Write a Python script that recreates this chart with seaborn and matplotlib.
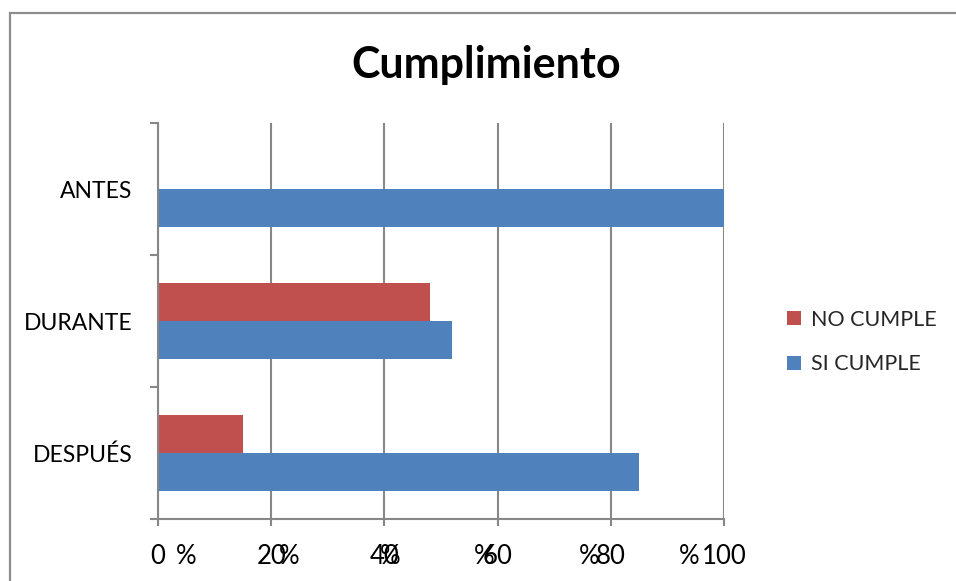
import matplotlib
matplotlib.use("Agg")
import matplotlib.pyplot as plt
from matplotlib.patches import Patch, Rectangle
import seaborn as sns
import pandas as pd

# Compliance percentages per stage
categories = ["ANTES", "DURANTE", "DESPUÉS"]
series_names = ["NO CUMPLE", "SI CUMPLE"]
no_cumple = [0, 48, 15]
si_cumple = [100, 52, 85]
x_ticks = [0, 20, 40, 60, 80, 100]
x_tick_labels = ["0", "20", "40", "60", "80", "100"]

colors = ["#C0504D", "#4F81BD"]
grid_gray = "#878787"

df = pd.DataFrame({
    "etapa": categories * 2,
    "serie": [series_names[0]] * 3 + [series_names[1]] * 3,
    "porcentaje": no_cumple + si_cumple,
})

sns.set_theme(style="white")
plt.rcParams["font.family"] = ["Lato", "DejaVu Sans"]

W, H = 956, 581
fig = plt.figure(figsize=(W / 100, H / 100), dpi=100)
ax = fig.add_axes([158 / W, 62 / H, 566 / W, 396 / H])

sns.barplot(data=df, y="etapa", x="porcentaje", hue="serie", order=categories,
            hue_order=series_names, palette=colors, orient="h", width=0.57,
            linewidth=0, saturation=1, legend=False, ax=ax)

ax.set_xlim(0, 100)
ax.set_ylim(2.5, -0.5)
ax.set_xlabel("")
ax.set_ylabel("")

# vertical gridlines behind the bars
ax.set_axisbelow(True)
ax.set_xticks(x_ticks)
ax.set_xticklabels(x_tick_labels, fontsize=18.5)
ax.xaxis.grid(True, color=grid_gray, linewidth=1.5)
ax.yaxis.grid(False)

for side in ["top", "right"]:
    ax.spines[side].set_visible(False)
for side in ["left", "bottom"]:
    ax.spines[side].set_color(grid_gray)
    ax.spines[side].set_linewidth(1.5)

x_pad = 13
x_len = 5
ax.tick_params(axis="x", bottom=True, direction="out", length=x_len, width=1.5,
               color=grid_gray, pad=x_pad, labelcolor="black")

# category labels centred, tick marks at category boundaries
ax.set_yticks([0, 1, 2])
ax.set_yticklabels(categories, fontsize=16.5)
ax.set_yticks([-0.5, 0.5, 1.5, 2.5], minor=True)
ax.tick_params(axis="y", which="major", left=False, length=0, pad=18.5,
               labelcolor="black")
ax.tick_params(axis="y", which="minor", left=True, direction="out", length=5.8,
               width=1.5, color=grid_gray)

# percent signs drawn beside the tick numbers
pct_offsets_px = [28, 18, 6, -13, -22, -35]
for xv, off in zip(x_ticks, pct_offsets_px):
    ax.annotate("%", xy=(xv, 0), xycoords=("data", "axes fraction"),
                xytext=(off * 0.72, -(x_len + x_pad)), textcoords="offset points",
                ha="center", va="top", fontsize=18.5, color="black",
                annotation_clip=False)

fig.text(486 / W, 1 - 78 / H, "Cumplimiento", ha="center", va="baseline",
         fontsize=31, fontweight="bold", color="black")

handles = [Patch(facecolor=c, edgecolor="none") for c in colors]
fig.legend(handles, series_names, loc="center left",
           bbox_to_anchor=(787 / W, 1 - 342 / H), frameon=False,
           fontsize=15.5, handlelength=0.65, handleheight=0.65,
           handletextpad=0.45, labelspacing=1.15, borderpad=0,
           borderaxespad=0)

# outer chart frame
fig.patches.append(Rectangle((10 / W, -0.05), 1.0, 1 - 13 / H + 0.05,
                             transform=fig.transFigure, fill=False,
                             edgecolor="#8C8C8C", linewidth=1.6))

fig.savefig("out.png", dpi=100, facecolor="white")
